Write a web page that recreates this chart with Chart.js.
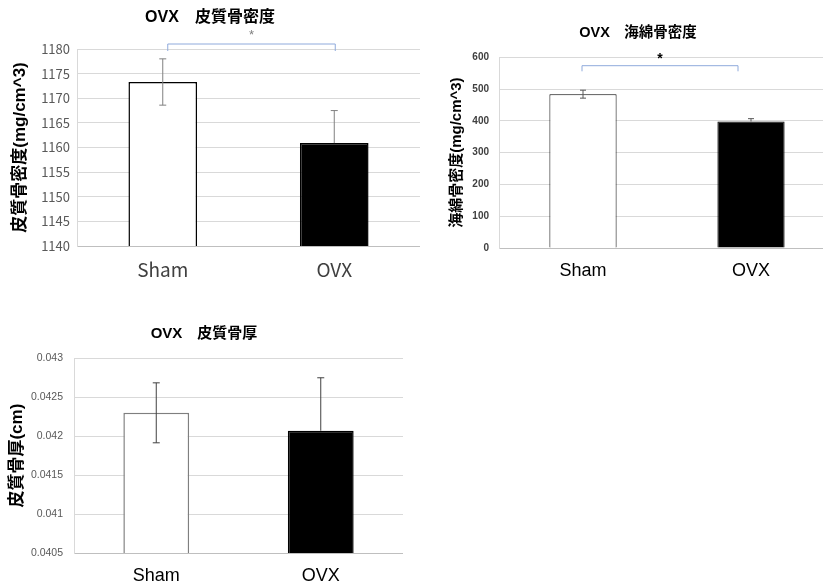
<!DOCTYPE html>
<html>
<head>
<meta charset="utf-8">
<script src="https://cdn.jsdelivr.net/npm/chart.js@4"></script>
<style>
  html, body { margin:0; padding:0; background:#fff; width:823px; height:587px; overflow:hidden; }
  canvas { position:absolute; }
</style>
</head>
<body>
<canvas id="cortDensity" width="420" height="290" style="left:0;top:0;"></canvas>
<canvas id="trabDensity" width="394" height="290" style="left:441px;top:0;"></canvas>
<canvas id="cortThick" width="398" height="277" style="left:5px;top:310px;"></canvas>
<script>
const groups = ['Sham', 'OVX'];

const cortDensityMean = [1173.3, 1160.9];
const cortDensityErr = [4.7, 6.6];
const cortDensityTicks = [1140, 1145, 1150, 1155, 1160, 1165, 1170, 1175, 1180];

const trabDensityMean = [484, 398];
const trabDensityErr = [12.5, 9];
const trabDensityTicks = [0, 100, 200, 300, 400, 500, 600];

const cortThickMean = [0.04230, 0.04207];
const cortThickErr = [0.000385, 0.00068];
const cortThickTicks = [0.0405, 0.041, 0.0415, 0.042, 0.0425, 0.043];

const LATIN = '"Liberation Sans", "Noto Sans CJK JP", sans-serif';
const JP = '"Noto Sans CJK JP", sans-serif';

// error bars drawn on top of bars; lower arm only where the bar is white
const errorBars = {
  id: 'errorBars',
  afterDatasetsDraw(chart, args, o) {
    const {ctx} = chart;
    const y = chart.scales.y;
    const meta = chart.getDatasetMeta(0);
    ctx.save();
    ctx.strokeStyle = o.color;
    ctx.lineWidth = o.width;
    meta.data.forEach((bar, i) => {
      const m = o.mean[i], e = o.err[i];
      const top = y.getPixelForValue(m + e);
      const bot = o.lower[i] ? y.getPixelForValue(m - e) : bar.y;
      ctx.beginPath();
      ctx.moveTo(bar.x, top); ctx.lineTo(bar.x, bot);
      ctx.moveTo(bar.x - o.cap, top); ctx.lineTo(bar.x + o.cap, top);
      if (o.lower[i]) { ctx.moveTo(bar.x - o.cap, bot); ctx.lineTo(bar.x + o.cap, bot); }
      ctx.stroke();
    });
    ctx.restore();
  }
};

// significance bracket with star
const sigBracket = {
  id: 'sigBracket',
  afterDraw(chart, args, o) {
    if (!o.show) return;
    const {ctx, chartArea} = chart;
    const bars = chart.getDatasetMeta(0).data;
    const x1 = bars[0].x + o.insetL, x2 = bars[1].x + o.insetR;
    const top = chartArea.top + o.top;
    ctx.save();
    ctx.strokeStyle = o.color;
    ctx.lineWidth = 1;
    ctx.beginPath();
    ctx.moveTo(x1, top + o.drop); ctx.lineTo(x1, top); ctx.lineTo(x2, top); ctx.lineTo(x2, top + o.drop);
    ctx.stroke();
    ctx.fillStyle = o.starColor;
    ctx.font = o.starFont;
    ctx.textAlign = 'center';
    ctx.textBaseline = 'middle';
    ctx.fillText('*', (x1 + x2) / 2, top - o.starGap);
    ctx.restore();
  }
};

function barChart(id, c) {
  return new Chart(document.getElementById(id), {
    type: 'bar',
    data: {
      labels: groups,
      datasets: [{
        data: c.mean,
        backgroundColor: ['#ffffff', '#000000'],
        borderColor: [c.shamBorder, '#000000'],
        borderWidth: c.borderWidth,
        borderSkipped: 'bottom',
        barPercentage: 0.4,
        categoryPercentage: 1
      }]
    },
    options: {
      responsive: false,
      animation: false,
      layout: {padding: 0},
      plugins: {
        legend: {display: false},
        tooltip: {enabled: false},
        title: {
          display: true, text: c.title, color: '#000',
          font: {family: LATIN, size: c.titleSize, weight: 'bold', lineHeight: 1.2},
          padding: c.titlePad
        },
        errorBars: {mean: c.mean, err: c.err, lower: [true, false], color: c.errColor, width: 1, cap: c.cap},
        sigBracket: c.bracket || {show: false}
      },
      scales: {
        x: {
          grid: {display: false, drawTicks: false},
          border: {color: '#bfbfbf'},
          ticks: {color: c.xColor, padding: 12, font: {family: c.xFamily, size: c.xSize}},
          afterFit: s => { s.height = c.xHeight; }
        },
        y: {
          min: c.ticks[0], max: c.ticks[c.ticks.length - 1],
          afterBuildTicks: s => { s.ticks = c.ticks.map(v => ({value: v})); },
          grid: {color: '#d9d9d9', drawTicks: false},
          border: {color: '#d9d9d9'},
          ticks: {color: c.yColor, padding: c.yPad, callback: v => String(v),
                  font: {family: c.yFamily, size: c.ySize, weight: c.yWeight}},
          title: {display: true, text: c.yTitle, color: '#000',
                  font: {family: LATIN, size: c.yTitleSize, weight: 'bold', lineHeight: 1.2},
                  padding: {top: c.yTitlePad, bottom: 0}},
          afterFit: s => { s.width = c.yWidth; }
        }
      }
    },
    plugins: [errorBars, sigBracket]
  });
}

barChart('cortDensity', {
  title: 'OVX　皮質骨密度', titleSize: 16, titlePad: {top: 8.4, bottom: 21.4},
  mean: cortDensityMean, err: cortDensityErr, ticks: cortDensityTicks,
  shamBorder: '#000000', borderWidth: 1.5, errColor: '#808080', cap: 3.5,
  xColor: '#404040', xFamily: JP, xSize: 19, xHeight: 44,
  yColor: '#595959', yFamily: JP, ySize: 13, yWeight: 'normal', yPad: 7,
  yTitle: '皮質骨密度(mg/cm^3)', yTitleSize: 17, yTitlePad: 10, yWidth: 77,
  bracket: {show: true, insetL: 5, insetR: 1, top: -5, drop: 7, color: '#8faadc',
            starColor: '#7f7f7f', starFont: '13px ' + LATIN, starGap: 9}
});

barChart('trabDensity', {
  title: 'OVX　海綿骨密度', titleSize: 14.5, titlePad: {top: 24.3, bottom: 15.6},
  mean: trabDensityMean, err: trabDensityErr, ticks: trabDensityTicks,
  shamBorder: '#000000', borderWidth: 1, errColor: '#595959', cap: 3,
  xColor: '#000000', xFamily: LATIN, xSize: 18, xHeight: 42,
  yColor: '#404040', yFamily: LATIN, ySize: 10, yWeight: 'bold', yPad: 10,
  yTitle: '海綿骨密度(mg/cm^3)', yTitleSize: 15, yTitlePad: 7, yWidth: 58,
  bracket: {show: true, insetL: -1, insetR: -13, top: 8.4, drop: 5.6, color: '#8faadc',
            starColor: '#000000', starFont: 'bold 14px ' + LATIN, starGap: 7}
});

barChart('cortThick', {
  title: 'OVX　皮質骨厚', titleSize: 15, titlePad: {top: 15, bottom: 15.3},
  mean: cortThickMean, err: cortThickErr, ticks: cortThickTicks,
  shamBorder: '#7f7f7f', borderWidth: 1.5, errColor: '#404040', cap: 3.5,
  xColor: '#000000', xFamily: LATIN, xSize: 18, xHeight: 34,
  yColor: '#595959', yFamily: LATIN, ySize: 10.5, yWeight: 'normal', yPad: 11,
  yTitle: '皮質骨厚(cm)', yTitleSize: 17, yTitlePad: 2, yWidth: 69
});
</script>
</body>
</html>
